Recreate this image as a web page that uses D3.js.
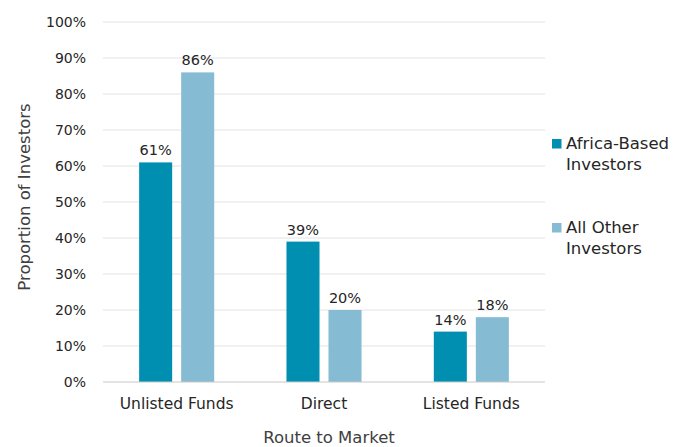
<!DOCTYPE html>
<html>
<head>
<meta charset="utf-8">
<script src="https://cdn.jsdelivr.net/npm/d3@7"></script>
<style>
  body { margin: 0; background: #fff; }
  svg text { font-family: "DejaVu Sans", "Open Sans", sans-serif; fill: #262626; }
</style>
</head>
<body>
<svg id="chart" width="687" height="447"></svg>
<script>
const categories = ["Unlisted Funds", "Direct", "Listed Funds"];
const seriesNames = ["Africa-Based Investors", "All Other Investors"];
const africaBased = [61, 39, 14];
const allOther = [86, 20, 18];
const yTicks = [0, 10, 20, 30, 40, 50, 60, 70, 80, 90, 100];
const colors = ["#008FB0", "#86BBD4"];

const svg = d3.select("#chart");
const margin = { left: 103, right: 142, top: 22, bottom: 65 };
const W = 687, H = 447;

const x = d3.scaleBand().domain(categories).range([margin.left, W - margin.right]);
const xs = d3.scaleBand().domain(seriesNames).range([0, x.bandwidth()]).paddingInner(0.214).paddingOuter(0.86);
const y = d3.scaleLinear().domain([0, 100]).range([H - margin.bottom, margin.top]);

// horizontal gridlines
svg.append("g").selectAll("line").data(yTicks.slice(1)).join("line")
  .attr("x1", margin.left).attr("x2", W - margin.right)
  .attr("y1", d => y(d)).attr("y2", d => y(d))
  .attr("stroke", "#e3e3e3").attr("stroke-width", 1);

// y axis labels
const yAxis = d3.axisLeft(y).tickValues(yTicks).tickFormat(d => d + "%").tickSize(0).tickPadding(17);
const gy = svg.append("g").attr("transform", `translate(${margin.left},0)`).call(yAxis);
gy.select(".domain").remove();
gy.selectAll("text").style("font-size", "14px").style("fill", "#262626").style("font-family", "DejaVu Sans");

const data = categories.map((c, i) => ({ cat: c, vals: [africaBased[i], allOther[i]] }));

const groups = svg.append("g").selectAll("g").data(data).join("g")
  .attr("transform", d => `translate(${x(d.cat)},0)`);

const cells = d => d.vals.map((v, j) => ({ v, s: seriesNames[j], j }));

groups.selectAll("rect").data(cells).join("rect")
  .attr("x", d => xs(d.s)).attr("width", xs.bandwidth())
  .attr("y", d => y(d.v)).attr("height", d => y(0) - y(d.v))
  .attr("fill", d => colors[d.j]);

groups.selectAll("text.val").data(cells).join("text")
  .attr("class", "val")
  .attr("x", d => xs(d.s) + xs.bandwidth() / 2).attr("y", d => y(d.v) - 7)
  .attr("text-anchor", "middle").style("font-size", "14.5px")
  .text(d => d.v + "%");

// baseline
svg.append("line").attr("x1", margin.left).attr("x2", W - margin.right)
  .attr("y1", y(0)).attr("y2", y(0)).attr("stroke", "#c8c8c8").attr("stroke-width", 1);

const xAxis = d3.axisBottom(x).tickSize(0).tickPadding(16);
const gx = svg.append("g").attr("transform", `translate(0,${y(0)})`).call(xAxis);
gx.select(".domain").remove();
gx.selectAll("text").style("font-size", "15.5px").style("fill", "#262626").style("font-family", "DejaVu Sans");

// axis titles
svg.append("text").attr("x", (margin.left + W - margin.right) / 2 + 5).attr("y", 443)
  .attr("text-anchor", "middle").style("font-size", "16.5px").style("fill", "#404040").text("Route to Market");
svg.append("text").attr("transform", `translate(30,${(y(0) + y(100)) / 2 - 5}) rotate(-90)`)
  .attr("text-anchor", "middle").style("font-size", "16.5px").style("fill", "#404040").text("Proportion of Investors");

// legend
const legendItems = [
  { lines: ["Africa-Based", "Investors"], color: colors[0], y: 149 },
  { lines: ["All Other", "Investors"], color: colors[1], y: 233 }
];
const lg = svg.append("g").selectAll("g").data(legendItems).join("g");
lg.append("rect").attr("x", 552).attr("y", d => d.y - 10).attr("width", 9.5).attr("height", 9.5).attr("fill", d => d.color);
lg.each(function(d) {
  const t = d3.select(this).append("text").attr("x", 566).attr("y", d.y).style("font-size", "16.5px");
  d.lines.forEach((l, i) => t.append("tspan").attr("x", 566).attr("dy", i === 0 ? 0 : 21).text(l));
});
</script>
</body>
</html>
